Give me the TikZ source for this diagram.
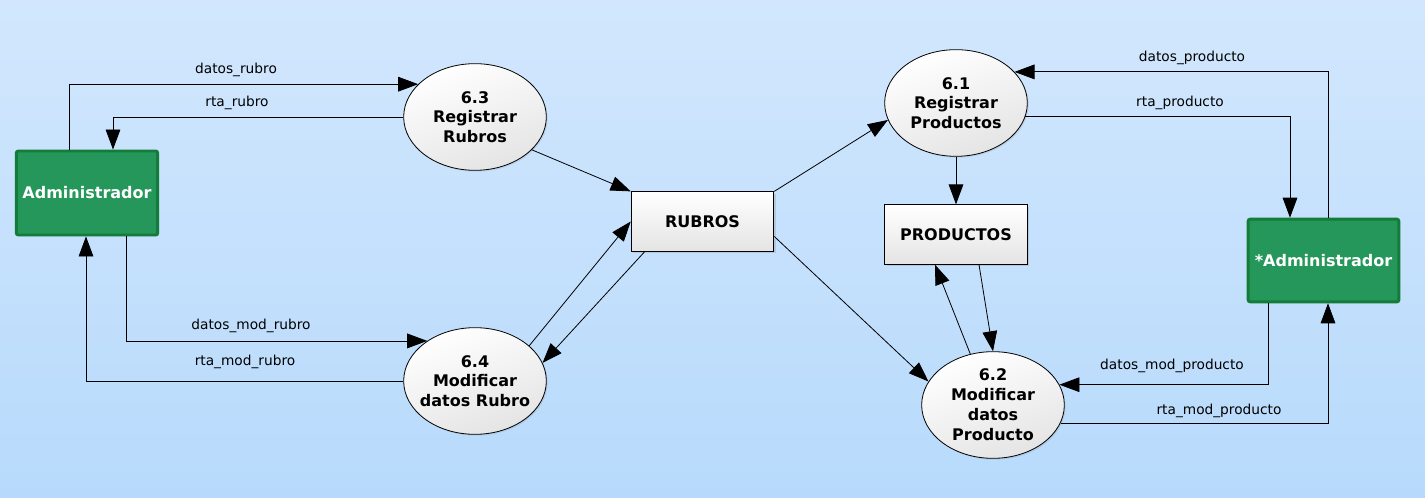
\documentclass[tikz,border=0pt]{standalone}
\usepackage{fontspec}
\setmainfont{DejaVu Sans}
\usetikzlibrary{arrows.meta,shapes.geometric,shadows,calc}
\definecolor{bgtop}{HTML}{D2E7FD}
\definecolor{bgbot}{HTML}{B7DAFC}
\definecolor{entfill}{HTML}{25975A}
\definecolor{entdraw}{HTML}{127C38}
\definecolor{procbot}{HTML}{E4E4E4}
\tikzset{
  entity/.style={rectangle, rounded corners=1.5pt, fill=entfill, draw=entdraw, line width=2.2pt,
    text=white, font=\bfseries\fontsize{12}{14}\selectfont, inner sep=0pt,
    drop shadow={opacity=0.2, shadow xshift=1pt, shadow yshift=-1pt}},
  process/.style={ellipse, draw=black, line width=0.6pt, top color=white, bottom color=procbot,
    shading angle=20, inner sep=0pt,
    minimum width=107pt, minimum height=80pt,
    drop shadow={opacity=0.2, shadow xshift=1pt, shadow yshift=-1pt}},
  ptext/.style={font=\bfseries\fontsize{12}{14.6}\selectfont, align=center, inner sep=0pt},
  store/.style={rectangle, draw=black, line width=0.7pt, top color=white, bottom color=procbot,
    font=\bfseries\fontsize{12}{14}\selectfont, inner sep=0pt,
    minimum width=107pt, minimum height=44.5pt,
    drop shadow={opacity=0.25, shadow xshift=1.5pt, shadow yshift=-1.5pt}},
  flow/.style={draw=black, line width=0.6pt, -{Triangle[length=15pt,width=11pt]}},
  lbl/.style={font=\fontsize{10.3}{12}\selectfont, text=black, inner sep=0pt}
}
\begin{document}
\begin{tikzpicture}[x=0.75pt,y=-0.75pt]
\shade[top color=bgtop, bottom color=bgbot] (0,0) rectangle (1425,498);
\useasboundingbox (0,0) rectangle (1425,498);

% entities
\node[entity, minimum width=106pt, minimum height=63pt] (admL) at (87,193) {Administrador};
\node[entity, minimum width=113pt, minimum height=62pt] (admR) at (1323.5,260.5) {*Administrador};

% processes
\node[process] (p63) at (475,117) {};
\node[ptext] (t63) at (p63.center) {6.3\\Registrar\\Rubros};
\node[process] (p64) at (475,381) {};
\node[ptext] (t64) at (p64.center) {6.4\\Modificar\\datos Rubro};
\node[process] (p61) at (956,103) {};
\node[ptext] (t61) at (p61.center) {6.1\\Registrar\\Productos};
\node[process] (p62) at (993,405) {};
\node[ptext, font=\bfseries\fontsize{12}{15}\selectfont] (t62) at (p62.center) {6.2\\Modificar\\datos\\Producto};

% stores
\node[store] (rubros) at (702.5,221.5) {RUBROS};
\node[store] (productos) at (956,234.5) {PRODUCTOS};

% left flows
\draw[flow] ($(admL.north)+(-18,0)$) |- (p63.150);
\draw[flow] (p63.west) -| ($(admL.north)+(26,0)$);
\draw[flow] ($(admL.south)+(39,0)$) |- (p64.140);
\draw[flow] (p64.west) -| ($(admL.south)+(-1,0)$);

\node[lbl] (l1) at (236,70) {datos\_rubro};
\node[lbl] (l2) at (237,103) {rta\_rubro};
\node[lbl] (l3) at (251,326) {datos\_mod\_rubro};
\node[lbl] (l4) at (245,362) {rta\_mod\_rubro};

% middle flows
\draw[flow] (p63.-30) -- (rubros.north west);
\draw[flow] (p64.33) -- (rubros.west);
\draw[flow] ($(rubros.south west)+(14,0)$) -- (p64.15);
\draw[flow] (rubros.north east) -- (p61.194);
\draw[flow] ($(rubros.east)+(0,15)$) -- (p62.160);
\draw[flow] (p61.south) -- (productos.north);
\draw[flow] ($(productos.south)+(23,0)$) -- (p62.north);
\draw[flow] (p62.114) -- ($(productos.south)+(-21,0)$);

% right flows
\draw[flow] ($(admR.north)+(4.5,0)$) |- (p61.28);
\draw[flow] (p61.-11) -| ($(admR.north)+(-33.5,0)$);
\draw[flow] ($(admR.south)+(-55.5,0)$) |- (p62.17);
\draw[flow] (p62.-15) -| ($(admR.south)+(4.5,0)$);

\node[lbl] (l5) at (1192,58) {datos\_producto};
\node[lbl] (l6) at (1180,103) {rta\_producto};
\node[lbl] (l7) at (1172,366) {datos\_mod\_producto};
\node[lbl] (l8) at (1219,411) {rta\_mod\_producto};
\end{tikzpicture}
\end{document}
